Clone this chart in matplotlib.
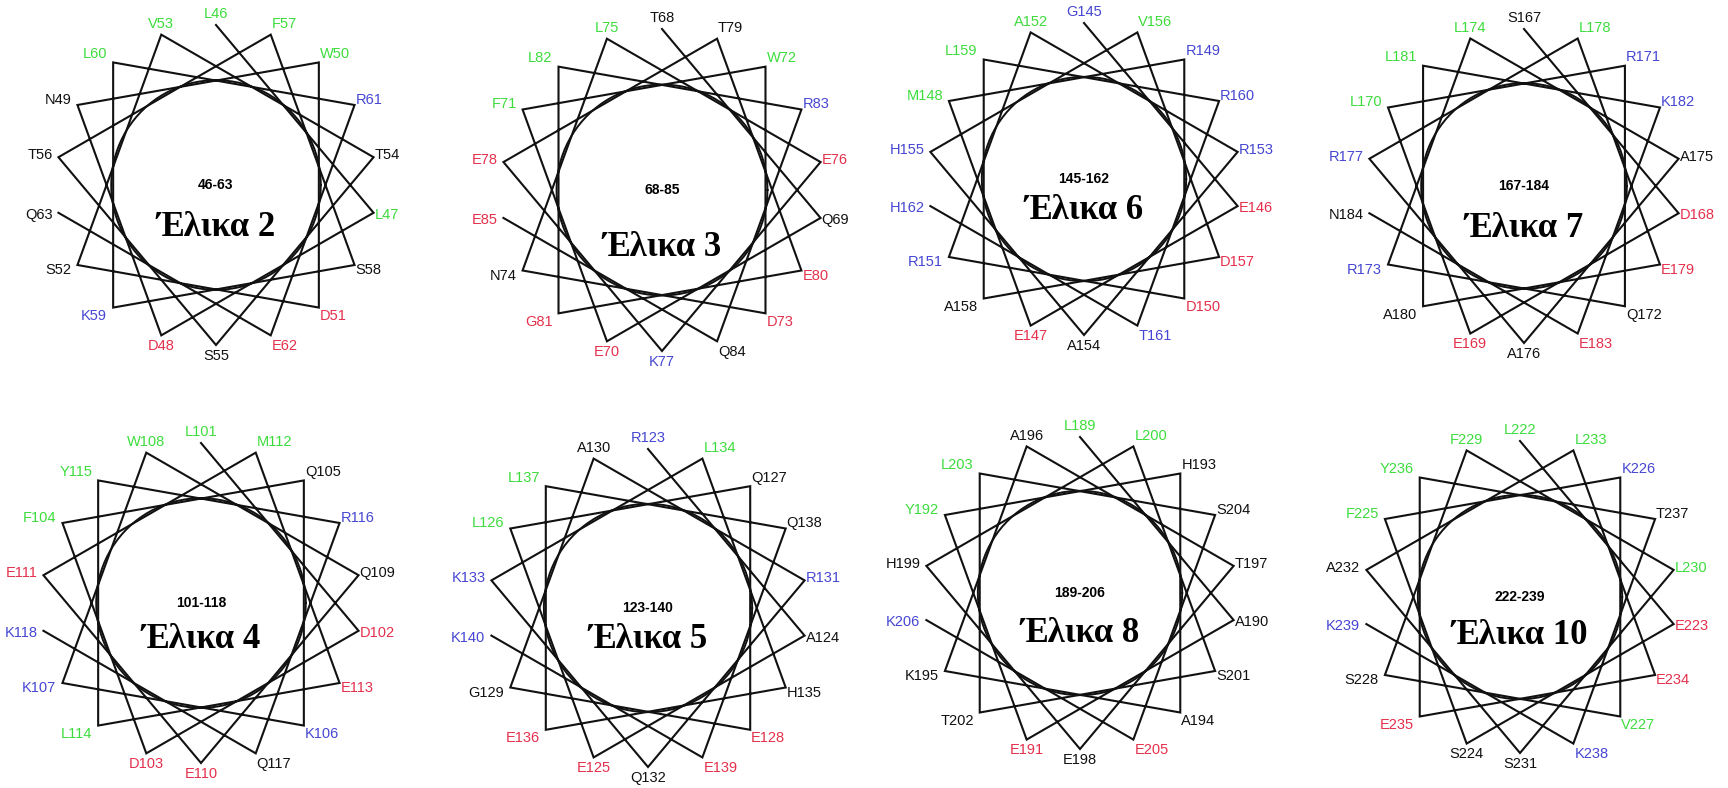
import numpy as np
import matplotlib
matplotlib.use('Agg')
import matplotlib.pyplot as plt

# Helical wheel data: first residue number, sequence, label colour codes
titles = ['Έλικα 2', 'Έλικα 3', 'Έλικα 6', 'Έλικα 7',
          'Έλικα 4', 'Έλικα 5', 'Έλικα 8', 'Έλικα 10']
starts = [46, 68, 145, 167, 101, 123, 189, 222]
sequences = [
    'LLDNWDSVTSTFSKLREQ',
    'TQEFWDNLEKETEGLRQE',
    'GEEMRDRARAHVDALRTH',
    'SDELRQRLAARLEALKEN',
    'LDDFQKKWQEEMELYRQK',
    'RAELQEGARQKLHELQEK',
    'LAEYHAKATEHLSTLSEK',
    'LESFKVSFLSALEEYTKK',
]
color_codes = [
    'ggrkgrkgkkkgkbgbrk',
    'kkrggrkgrbrkrrgbkr',
    'brrgbrbgbkbgrkgbbb',
    'krrgbkbgkkbgrkgbrk',
    'grrgkbbgkrrgrggbkb',
    'bkrgkrkkbkbgkrgkrb',
    'gkrgkkkkkkkgkkgkrb',
    'grkgbgkggkkgrrgkbb',
]

# Layout (pixels): wheel centres, outer radius, title offset below centre
centers = [(216, 185), (662, 190), (1084, 179), (1524, 186),
           (201, 603), (648, 608), (1080, 593), (1520, 597)]
radii = [160, 161, 156, 157, 160, 159, 156, 156]
title_dy = [42, 57, 31, 42, 37, 32, 40, 38]

palette = {'g': '#3ddc3d', 'b': '#4646d2', 'r': '#e4304c', 'k': '#111111'}

fig = plt.figure(figsize=(17.28, 7.88), dpi=100)
ax = fig.add_axes([0, 0, 1, 1])
ax.set_xlim(0, 1728)
ax.set_ylim(788, 0)
ax.axis('off')

for title, start, seq, codes, (cx, cy), R, tdy in zip(
        titles, starts, sequences, color_codes, centers, radii, title_dy):
    n = len(seq)
    # 100 degrees per residue, first residue at the top
    ang = np.deg2rad(90 - 100 * np.arange(n))
    vx = cx + R * np.cos(ang)
    vy = cy - R * np.sin(ang)
    ax.plot(vx, vy, color='#111111', lw=1.5, solid_joinstyle='miter')
    t = np.linspace(0, 2 * np.pi, 200)
    ax.plot(cx + 0.655 * R * np.cos(t), cy + 0.655 * R * np.sin(t),
            color='#111111', lw=1.4)

    for i in range(n):
        c, s = np.cos(ang[i]), np.sin(ang[i])
        if c > 0.1:
            ha, x = 'left', vx[i] + 1
        elif c < -0.5:
            ha, x = 'right', vx[i] - 6
        else:
            ha, x = 'center', vx[i]
        y = vy[i] - 11 * s
        ax.text(x, y, f'{seq[i]}{start + i}', ha=ha, va='center',
                fontsize=10.5, family='Liberation Sans',
                color=palette[codes[i]])

    ax.text(cx, cy, f'{start}-{start + n - 1}', ha='center', va='center',
            fontsize=10, fontweight='bold', family='Liberation Sans')
    ax.text(cx, cy + tdy, title, ha='center', va='center', fontsize=25,
            fontweight='bold', family='Liberation Serif')

fig.savefig('out.png', dpi=100)
